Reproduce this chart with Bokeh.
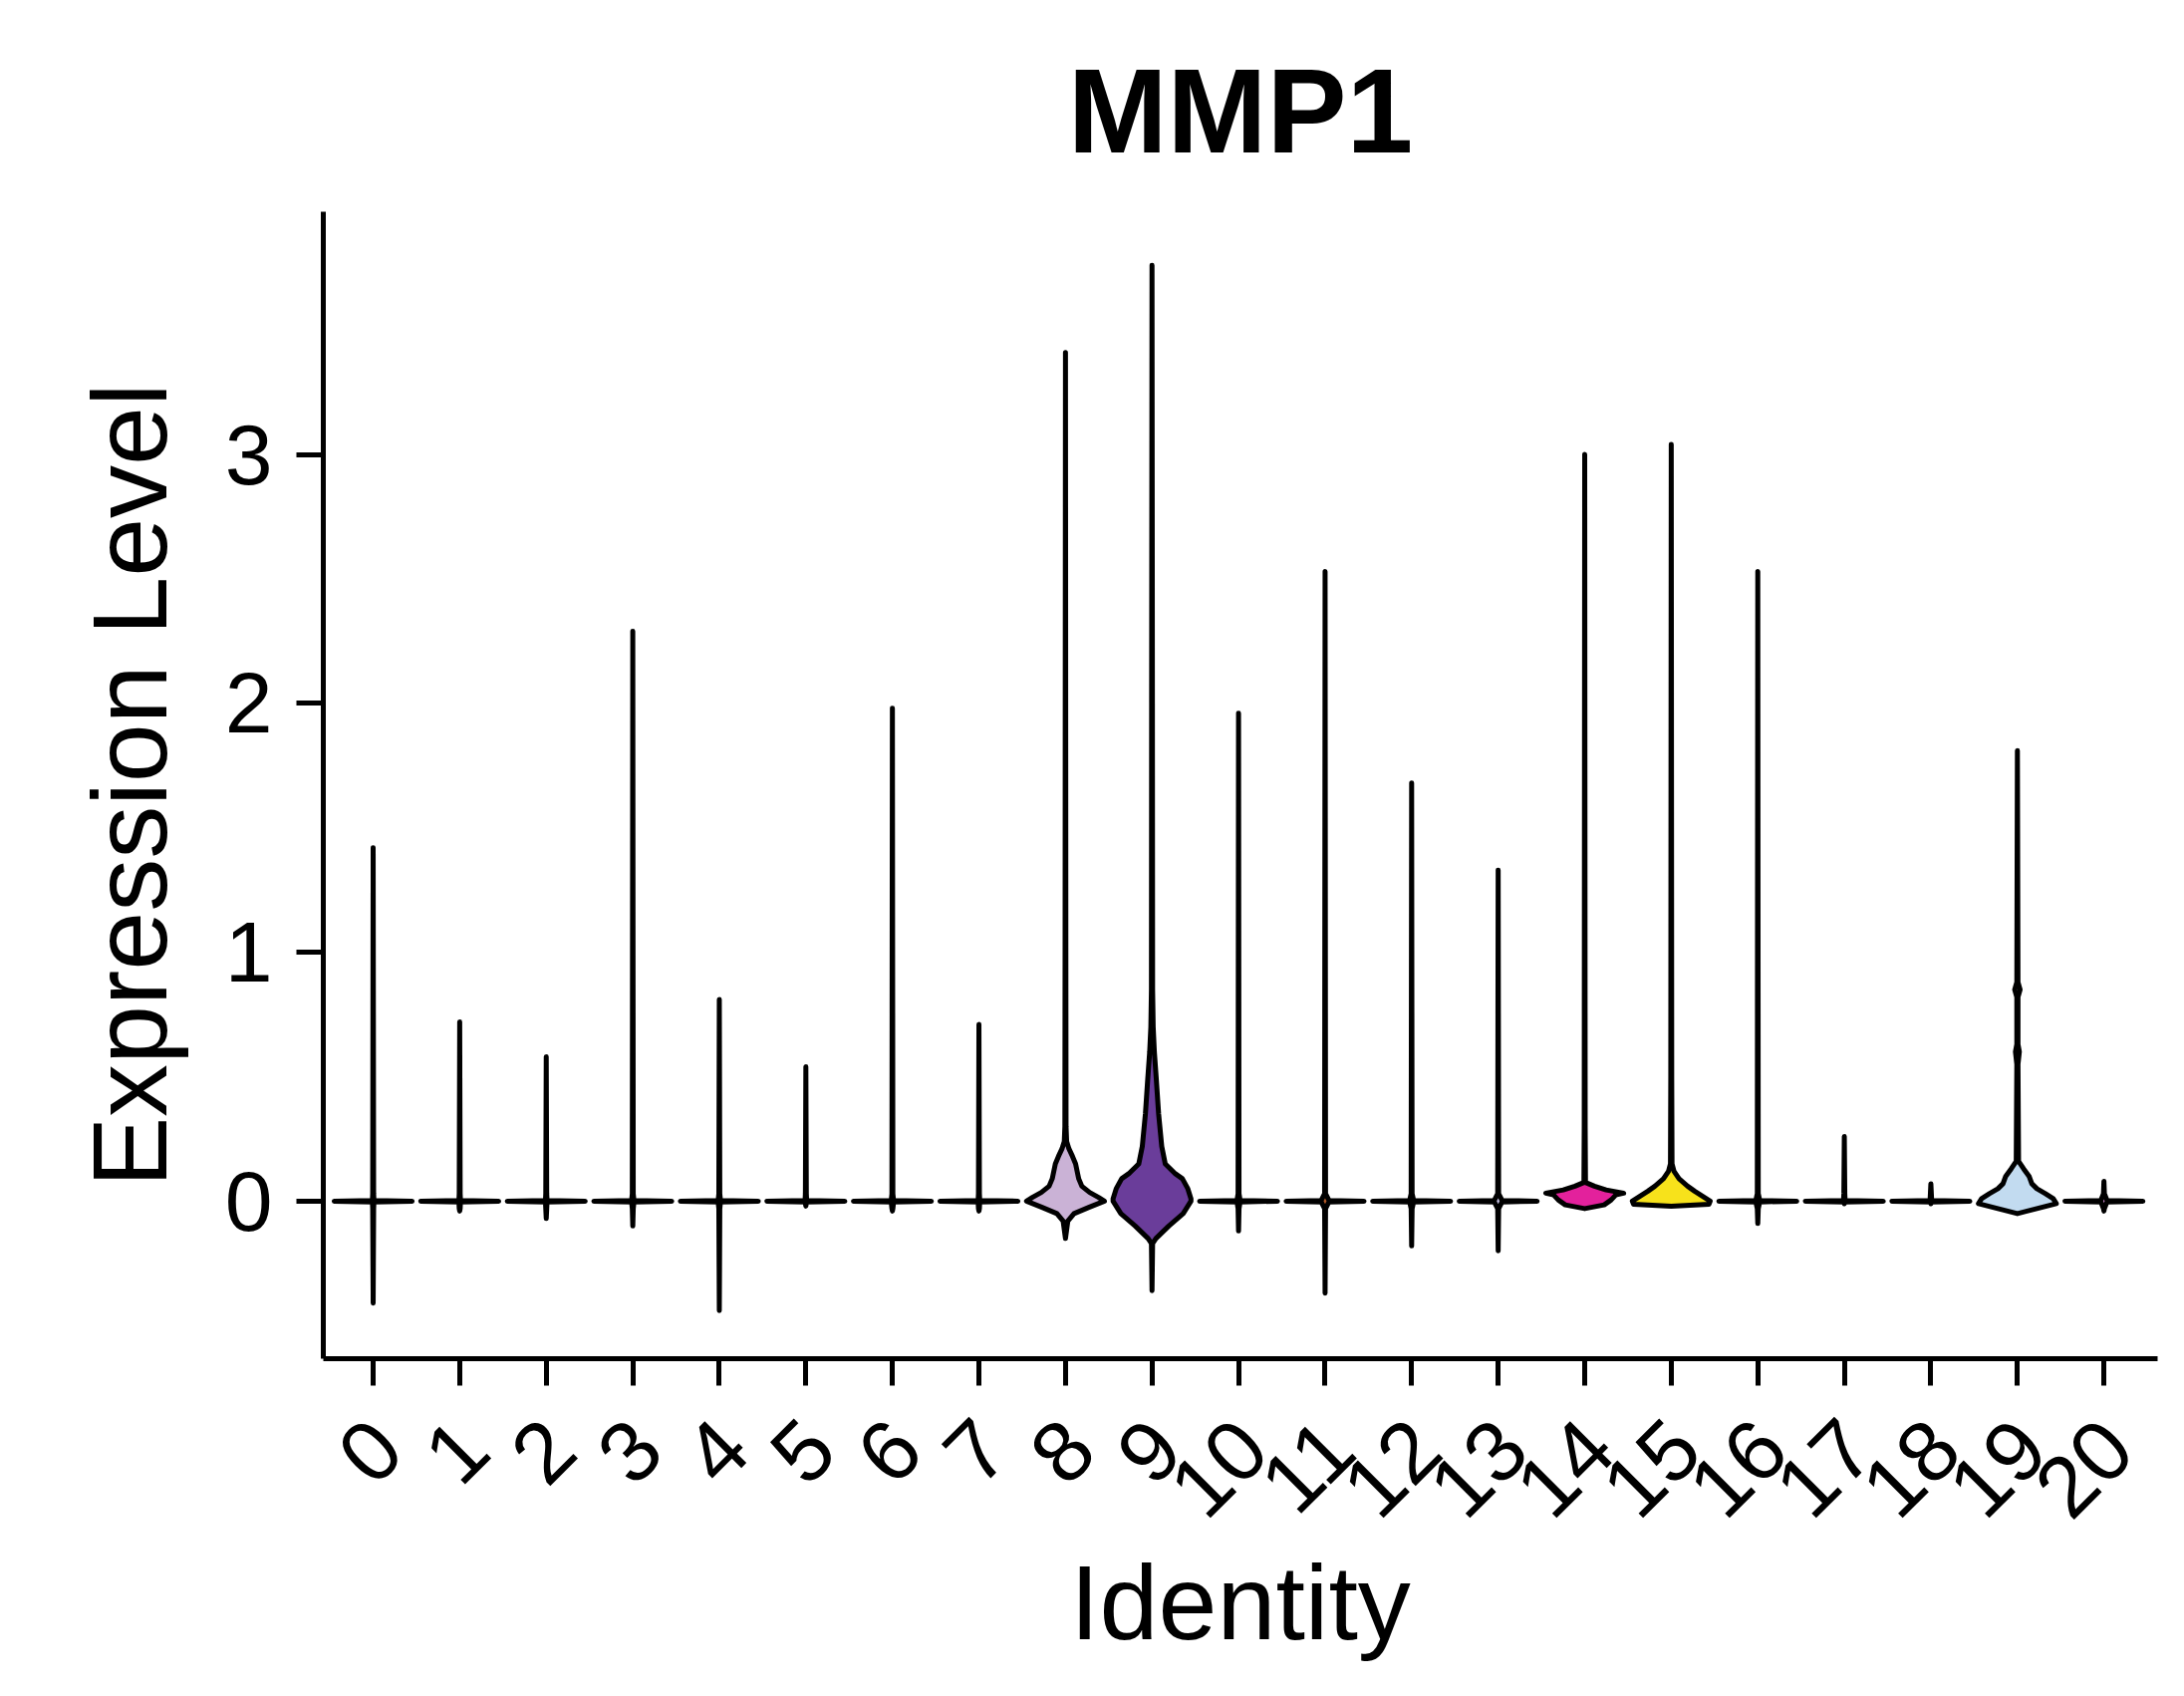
from bokeh.plotting import figure
from bokeh.models import Range1d, FixedTicker
from bokeh.embed import file_html
from bokeh.resources import INLINE

# ---------------- data ----------------
clusters = ["0", "1", "2", "3", "4", "5", "6", "7", "8", "9", "10",
            "11", "12", "13", "14", "15", "16", "17", "18", "19", "20"]
max_expr = [1.42, 0.72, 0.58, 2.29, 0.81, 0.54, 1.98, 0.71, 3.41, 3.76, 1.96,
            2.53, 1.68, 1.33, 3.00, 3.04, 2.53, 0.26, 0.07, 1.81, 0.08]
min_expr = [-0.41, -0.04, -0.07, -0.10, -0.44, -0.02, -0.04, -0.04, -0.15, -0.36, -0.12,
            -0.37, -0.18, -0.20, -0.03, -0.02, -0.09, -0.01, -0.01, -0.05, -0.04]
# small bulge of the density around zero (relative half-width)
zero_bulge = [0.02, 0.02, 0.02, 0.03, 0.03, 0.02, 0.03, 0.02, 0.0, 0.0, 0.04,
              0.10, 0.05, 0.10, 0.0, 0.0, 0.05, 0.02, 0.02, 0.0, 0.08]
colors = ["#A6CEE3", "#1F78B4", "#B2DF8A", "#33A02C", "#FB9A99", "#E31A1C", "#FDBF6F",
          "#FF7F00", "#CAB2D6", "#6A3D9A", "#FFFF99", "#B15928", "#8DD3C7", "#BEBADA",
          "#E3219C", "#F7E21B", "#80B1D3", "#B3DE69", "#FCCDE5", "#C2DBF0", "#BC80BD"]

# density profiles (level, relative half-width) for the visibly wide violins
c8_levels = [-0.15, -0.08, -0.05, -0.025, 0.0, 0.015, 0.035, 0.06, 0.09, 0.12, 0.15, 0.18, 0.21, 0.24, 0.30, 1.0, 3.41]
c8_widths = [0.0, 0.06, 0.22, 0.60, 1.0, 0.85, 0.62, 0.42, 0.34, 0.30, 0.26, 0.18, 0.09, 0.03, 0.015, 0.01, 0.0]
c9_levels = [-0.36, -0.17, -0.15, -0.10, -0.05, 0.0, 0.01, 0.05, 0.09, 0.11, 0.15, 0.22, 0.35, 0.49, 0.60, 0.70, 0.85, 2.0, 3.76]
c9_widths = [0.0, 0.015, 0.10, 0.43, 0.80, 1.0, 1.0, 0.92, 0.78, 0.60, 0.34, 0.25, 0.17, 0.11, 0.06, 0.03, 0.015, 0.01, 0.0]
c14_levels = [-0.03, -0.015, 0.005, 0.025, 0.032, 0.045, 0.06, 0.075, 0.3, 3.00]
c14_widths = [0.0, 0.50, 0.68, 0.80, 1.0, 0.55, 0.25, 0.02, 0.012, 0.0]
c15_levels = [-0.02, -0.012, 0.0, 0.02, 0.04, 0.06, 0.09, 0.12, 0.15, 0.5, 3.04]
c15_widths = [0.0, 0.97, 1.0, 0.80, 0.60, 0.42, 0.20, 0.07, 0.02, 0.012, 0.0]
c19_levels = [-0.05, -0.03, -0.01, 0.01, 0.03, 0.05, 0.07, 0.10, 0.13, 0.16, 0.55, 0.60, 0.63, 0.70, 0.82, 0.85, 0.88, 1.81]
c19_widths = [0.0, 0.50, 1.0, 0.92, 0.72, 0.50, 0.37, 0.30, 0.16, 0.03, 0.015, 0.05, 0.015, 0.015, 0.015, 0.07, 0.015, 0.0]

special = {8: (c8_levels, c8_widths), 9: (c9_levels, c9_widths),
           14: (c14_levels, c14_widths), 15: (c15_levels, c15_widths),
           19: (c19_levels, c19_widths)}

y_ticks = [0, 1, 2, 3]
HALF = 0.45          # ggplot violin half width (width = 0.9)
LABEL_SHIFT = 0.16   # rotated labels hang to the right of their tick (ggplot hjust=1, vjust=1)
X_START, X_END = -0.576, 20.62
Y_START, Y_END = -0.633, 3.975

# ---------------- build violin outlines ----------------
xs, ys = [], []
for i, name in enumerate(clusters):
    if i in special:
        lv, wd = special[i]
    else:
        lo, hi, b = min_expr[i], max_expr[i], zero_bulge[i]
        lv = [lo, -0.03, -0.003, 0.0, 0.003, 0.03, hi]
        wd = [0.0, 0.012, b, 1.0, b, 0.012, 0.0]
        keep = [k for k in range(len(lv)) if (k == 0 or lv[k] > lo) and (k == len(lv) - 1 or lv[k] < hi)]
        lv = [lv[k] for k in keep]
        wd = [wd[k] for k in keep]
    right_x = [i + w * HALF for w in wd]
    left_x = [i - w * HALF for w in reversed(wd)]
    xs.append(right_x + left_x)
    ys.append(list(lv) + list(reversed(lv)))

FONT = "Liberation Sans"

p = figure(width=2176, height=1686, output_backend="svg", toolbar_location=None,
           x_range=Range1d(X_START, X_END), y_range=Range1d(Y_START, Y_END),
           min_border_left=324, min_border_right=11, min_border_top=212, min_border_bottom=323,
           title="MMP1")
p.patches(xs, ys, fill_color=colors, line_color="black", line_width=5, line_join="round")

xax = p.below[0]
yax = p.left[0]

p.outline_line_color = None
p.xgrid.visible = False
p.ygrid.visible = False
p.background_fill_color = "white"
p.border_fill_color = "white"

p.title.text_font = FONT
p.title.text_font_size = "120px"
p.title.text_font_style = "bold"
p.title.align = "center"
p.title.text_color = "black"
p.title.standoff = 70

for ax in (xax, yax):
    ax.axis_line_width = 5
    ax.axis_line_color = "black"
    ax.major_tick_line_width = 5
    ax.major_tick_line_color = "black"
    ax.minor_tick_line_width = 5
    ax.minor_tick_line_color = "black"
    ax.major_tick_out = 27
    ax.major_tick_in = 0
    ax.minor_tick_out = 0
    ax.minor_tick_in = 0
    ax.major_label_text_font = FONT
    ax.major_label_text_font_size = "86px"
    ax.major_label_text_color = "black"
    ax.axis_label_text_font = FONT
    ax.axis_label_text_font_size = "106px"
    ax.axis_label_text_font_style = "normal"
    ax.axis_label_text_color = "black"

# x axis: tick marks at the categories (minor ticks), labels hung slightly right (major ticks)
tick_pos = list(range(len(clusters)))
label_pos = [t + LABEL_SHIFT for t in tick_pos]
xax.ticker = FixedTicker(ticks=label_pos, minor_ticks=tick_pos)
xax.major_label_overrides = dict(zip(label_pos, clusters))
xax.major_tick_out = 0
xax.minor_tick_out = 27
xax.major_label_orientation = 0.7854
xax.major_label_standoff = 49
xax.axis_label = "Identity"
xax.axis_label_standoff = -3

yax.ticker = FixedTicker(ticks=y_ticks)
yax.major_label_standoff = 24
yax.axis_label = "Expression Level"
yax.axis_label_standoff = 34

open("out.html", "w").write(file_html(p, INLINE))
